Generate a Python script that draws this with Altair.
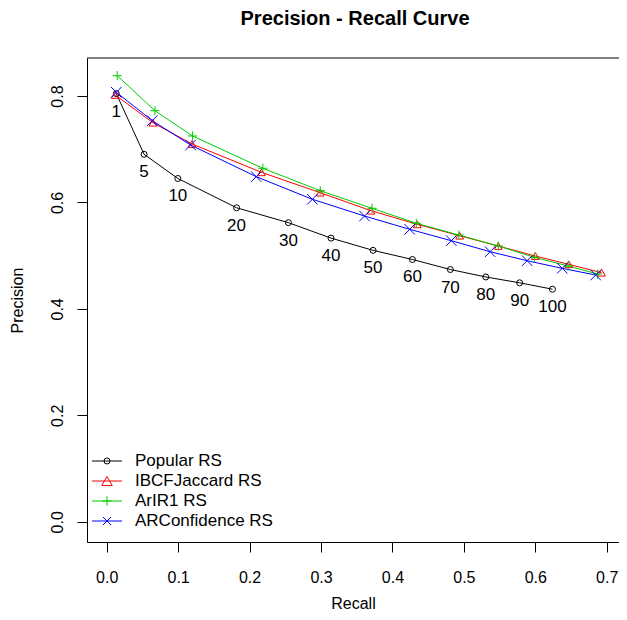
import altair as alt
import pandas as pd

# ---- data ----
n_values = [1, 5, 10, 20, 30, 40, 50, 60, 70, 80, 90, 100]
series_names = ["Popular RS", "IBCFJaccard RS", "ArIR1 RS", "ARConfidence RS"]

popular_recall = [0.0134, 0.0523, 0.0996, 0.1818, 0.2544, 0.3140, 0.3729, 0.4280, 0.4811, 0.5307, 0.5781, 0.6240]
popular_precision = [0.8045, 0.6905, 0.6450, 0.5900, 0.5620, 0.5330, 0.5100, 0.4928, 0.4740, 0.4600, 0.4490, 0.4370]

ibcf_recall = [0.0120, 0.0647, 0.1194, 0.2167, 0.2989, 0.3701, 0.4348, 0.4941, 0.5482, 0.6001, 0.6469, 0.6928]
ibcf_precision = [0.8019, 0.7498, 0.7098, 0.6566, 0.6183, 0.5845, 0.5589, 0.5375, 0.5181, 0.4993, 0.4837, 0.4680]

arir1_recall = [0.0147, 0.0675, 0.1202, 0.2186, 0.2989, 0.3715, 0.4335, 0.4931, 0.5482, 0.5988, 0.6460, 0.6873]
arir1_precision = [0.8382, 0.7724, 0.7249, 0.6642, 0.6221, 0.5890, 0.5608, 0.5388, 0.5181, 0.4969, 0.4806, 0.4655]

arconf_recall = [0.0134, 0.0638, 0.1175, 0.2094, 0.2879, 0.3609, 0.4242, 0.4825, 0.5368, 0.5886, 0.6377, 0.6846]
arconf_precision = [0.8070, 0.7536, 0.7079, 0.6484, 0.6059, 0.5745, 0.5495, 0.5281, 0.5074, 0.4905, 0.4762, 0.4636]

x_ticks = [0.0, 0.1, 0.2, 0.3, 0.4, 0.5, 0.6, 0.7]
y_ticks = [0.0, 0.2, 0.4, 0.6, 0.8]
chart_title = ["Precision - Recall Curve"]

# ---- styling ----
FONT = "Liberation Sans"
colors = ["#000000", "#FF0000", "#00CD00", "#0000FF"]
PLUS = "M-1,0L1,0M0,-1L0,1"
CROSS = "M-1,-1L1,1M-1,1L1,-1"
shapes = ["circle", "triangle-up", PLUS, CROSS]
sizes = [36, 110, 90, 64]

rows = []
for name, rec, prec in zip(series_names,
                           [popular_recall, ibcf_recall, arir1_recall, arconf_recall],
                           [popular_precision, ibcf_precision, arir1_precision, arconf_precision]):
    for n, r, p in zip(n_values, rec, prec):
        rows.append({"series": name, "n": n, "recall": r, "precision": p})
df = pd.DataFrame(rows)

W, H = 532, 484
xscale = alt.Scale(domain=[-0.0276, 0.7172], nice=False, zero=False)
yscale = alt.Scale(domain=[-0.038, 0.8714], nice=False, zero=False)

x_enc = alt.X("recall:Q", scale=xscale,
              axis=alt.Axis(title="Recall", values=x_ticks, format=".1f",
                            labelPadding=17, titleY=61, titleBaseline="middle"))
y_enc = alt.Y("precision:Q", scale=yscale,
              axis=alt.Axis(title="Precision", values=y_ticks, format=".1f",
                            labelAngle=270, labelAlign="center", labelBaseline="bottom",
                            labelPadding=12, titleAngle=270, titleX=-70, titleY=H / 2,
                            titleAlign="center", titleBaseline="middle"))
color_enc = alt.Color("series:N", scale=alt.Scale(domain=series_names, range=colors), legend=None)

base = alt.Chart(df)
lines = base.mark_line(strokeWidth=1).encode(
    x=x_enc, y=y_enc, color=color_enc, order=alt.Order("n:Q"))
points = base.mark_point(filled=False, strokeWidth=1, opacity=1).encode(
    x=x_enc, y=y_enc, color=color_enc,
    shape=alt.Shape("series:N", scale=alt.Scale(domain=series_names, range=shapes), legend=None),
    size=alt.Size("series:N", scale=alt.Scale(domain=series_names, range=sizes), legend=None))
labels = base.transform_filter(alt.datum.series == series_names[0]).mark_text(
    dy=18, fontSize=17, font=FONT, color="black", baseline="middle").encode(
    x=x_enc, y=y_enc, text="n:Q")

title_layer = alt.Chart(pd.DataFrame({"t": chart_title})).mark_text(
    font=FONT, fontSize=20, fontWeight="bold", color="black",
    align="center", baseline="middle").encode(
    x=alt.value(268), y=alt.value(-39), text="t:N")

# top edge of the plot frame (right edge lies outside the picture, as in the reference)
top_edge = alt.Chart(pd.DataFrame({"t": chart_title})).mark_rule(
    color="black", strokeWidth=1).encode(x=alt.value(0), x2=alt.value(W), y=alt.value(0))

layers = [top_edge, lines, points, labels, title_layer]

# ---- legend (bottom-left, inside plot) ----
for i, (name, col, shp, sz) in enumerate(zip(series_names, colors, shapes, sizes)):
    d = pd.DataFrame({"series": [name]})
    yy = 403 + 20 * i
    layers.append(alt.Chart(d).mark_rule(color=col, strokeWidth=1).encode(
        x=alt.value(5), x2=alt.value(35), y=alt.value(yy)))
    layers.append(alt.Chart(d).mark_point(shape=shp, size=sz, filled=False, color=col,
                                          strokeWidth=1, opacity=1).encode(
        x=alt.value(20), y=alt.value(yy)))
    layers.append(alt.Chart(d).mark_text(align="left", baseline="middle", fontSize=17,
                                         font=FONT, color="black").encode(
        x=alt.value(48), y=alt.value(yy), text="series:N"))

chart = alt.layer(*layers).properties(
    width=W, height=H,
    background="white",
    autosize=alt.AutoSizeParams(type="none"),
    padding={"left": 79, "top": 50, "right": 0, "bottom": 70},
).configure_view(strokeWidth=0).configure_axis(
    grid=False, domainColor="black", tickColor="black", tickSize=10,
    labelColor="black", labelFont=FONT, labelFontSize=16, labelFlush=False,
    titleColor="black", titleFont=FONT, titleFontSize=16, titleFontWeight="normal",
    domainWidth=1, tickWidth=1,
)

chart.save("out.html", embed_options={"renderer": "svg", "actions": False})
